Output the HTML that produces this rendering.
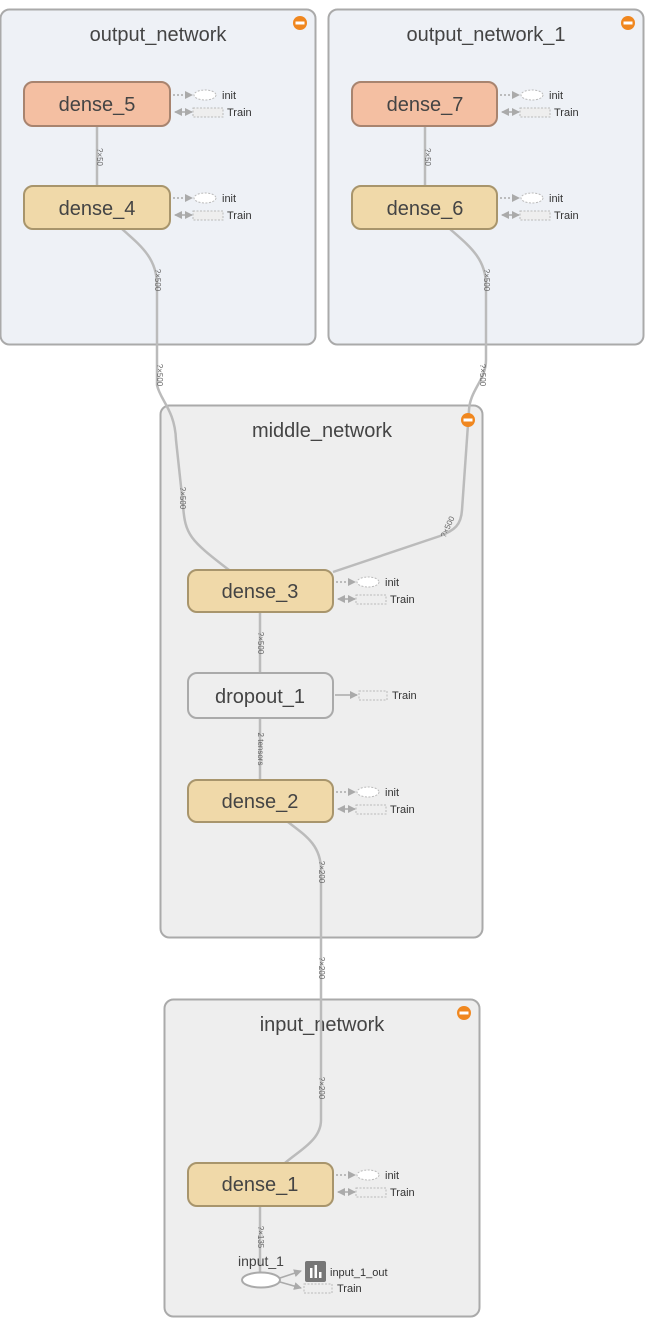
<!DOCTYPE html>
<html><head><meta charset="utf-8"><style>
html,body{margin:0;padding:0;background:#fff;width:650px;height:1325px;overflow:hidden}
svg text{font-family:"Liberation Sans",sans-serif}
.t{font-size:20px;fill:#444;text-anchor:middle}
.n{font-size:20px;fill:#444;text-anchor:middle}
.s{font-size:11px;fill:#333}
.e{font-size:8px;fill:#666;text-anchor:middle}
.edge{fill:none;stroke:#bbb;stroke-width:2.5}
</style></head><body>
<svg width="650" height="1325" viewBox="0 0 650 1325" xmlns="http://www.w3.org/2000/svg">
<defs>
<marker id="a" markerWidth="8" markerHeight="8" refX="7" refY="4" orient="auto" markerUnits="userSpaceOnUse"><path d="M0,0 L8,4 L0,8z" fill="#aaa"/></marker>
<marker id="b" markerWidth="8" markerHeight="8" refX="1" refY="4" orient="auto" markerUnits="userSpaceOnUse"><path d="M8,0 L0,4 L8,8z" fill="#aaa"/></marker>
<g id="aux">
<line x1="3" y1="-9" x2="22" y2="-9" stroke="#aaa" stroke-width="1.5" stroke-dasharray="2,2" marker-end="url(#a)"/>
<ellipse cx="35" cy="-9" rx="11" ry="5" fill="#fff" stroke="#bbb" stroke-dasharray="2,1.5"/>
<text x="52" y="-5" class="s">init</text>
<line x1="5" y1="8" x2="22" y2="8" stroke="#aaa" stroke-width="1.5" marker-end="url(#a)" marker-start="url(#b)"/>
<rect x="23" y="4" width="30" height="9" fill="#eee" stroke="#bbb" stroke-dasharray="2,1.5"/>
<text x="57" y="12" class="s">Train</text>
</g>
<g id="minus"><circle r="7" fill="#f0871f"/><rect x="-4.5" y="-1.5" width="9" height="3" fill="#fff"/></g>
</defs>

<rect x="0.5" y="9.5" width="315" height="335" rx="9" fill="#eef1f6" stroke="#aaa" stroke-width="2"/>
<rect x="328.5" y="9.5" width="315" height="335" rx="9" fill="#eef1f6" stroke="#aaa" stroke-width="2"/>
<rect x="160.5" y="405.5" width="322" height="532" rx="9" fill="#eeeeee" stroke="#aaa" stroke-width="2"/>
<rect x="164.5" y="999.5" width="315" height="317" rx="9" fill="#eeeeee" stroke="#aaa" stroke-width="2"/>
<text x="158" y="41" class="t">output_network</text>
<text x="486" y="41" class="t">output_network_1</text>
<text x="322" y="437" class="t">middle_network</text>
<text x="322" y="1031" class="t">input_network</text>

<path class="edge" d="M97,126 V186"/>
<path class="edge" d="M425,126 V186"/>
<path class="edge" d="M122,229 C140,245 157,258 157,285 V385 C160,400 175,410 176,440 L183,505 C185,535 190,540 229,570"/>
<path class="edge" d="M450,229 C468,245 486,258 486,285 V360 C486,380 470,390 469,410 L462,510 C461,525 455,530 440,536 L333,572"/>
<path class="edge" d="M260,612 V673"/>
<path class="edge" d="M260,718 V780"/>
<path class="edge" d="M288,822 C305,835 321,845 321,870 V1120 C321,1140 300,1150 285,1163"/>
<path class="edge" d="M260,1206 V1272"/>
<g transform="translate(97,157) rotate(90)"><text class="e">?×50</text></g>
<g transform="translate(425,157) rotate(90)"><text class="e">?×50</text></g>
<g transform="translate(155,280) rotate(90)"><text class="e">?×500</text></g>
<g transform="translate(484,280) rotate(90)"><text class="e">?×500</text></g>
<g transform="translate(157,375) rotate(90)"><text class="e">?×500</text></g>
<g transform="translate(480,375) rotate(90)"><text class="e">?×500</text></g>
<g transform="translate(180,498) rotate(90)"><text class="e">?×500</text></g>
<g transform="translate(450,528) rotate(-65)"><text class="e">?×500</text></g>
<g transform="translate(258,643) rotate(90)"><text class="e">?×500</text></g>
<g transform="translate(258,749) rotate(90)"><text class="e">2 tensors</text></g>
<g transform="translate(319,872) rotate(90)"><text class="e">?×200</text></g>
<g transform="translate(319,968) rotate(90)"><text class="e">?×200</text></g>
<g transform="translate(319,1088) rotate(90)"><text class="e">?×200</text></g>
<g transform="translate(258,1237) rotate(90)"><text class="e">?×135</text></g>

<rect x="24" y="82" width="146" height="44" rx="9" fill="#f4bfa2" stroke="#a8846f" stroke-width="2"/>
<text x="97" y="111" class="n">dense_5</text>
<rect x="24" y="186" width="146" height="43" rx="9" fill="#f0d9a9" stroke="#a8956c" stroke-width="2"/>
<text x="97" y="215" class="n">dense_4</text>
<rect x="352" y="82" width="145" height="44" rx="9" fill="#f4bfa2" stroke="#a8846f" stroke-width="2"/>
<text x="425" y="111" class="n">dense_7</text>
<rect x="352" y="186" width="145" height="43" rx="9" fill="#f0d9a9" stroke="#a8956c" stroke-width="2"/>
<text x="425" y="215" class="n">dense_6</text>
<rect x="188" y="570" width="145" height="42" rx="9" fill="#f0d9a9" stroke="#a8956c" stroke-width="2"/>
<text x="260" y="598" class="n">dense_3</text>
<rect x="188" y="673" width="145" height="45" rx="9" fill="#eeeeee" stroke="#aaa" stroke-width="2"/>
<text x="260" y="703" class="n">dropout_1</text>
<rect x="188" y="780" width="145" height="42" rx="9" fill="#f0d9a9" stroke="#a8956c" stroke-width="2"/>
<text x="260" y="808" class="n">dense_2</text>
<rect x="188" y="1163" width="145" height="43" rx="9" fill="#f0d9a9" stroke="#a8956c" stroke-width="2"/>
<text x="260" y="1191" class="n">dense_1</text>

<use href="#aux" x="170" y="104"/>
<use href="#aux" x="170" y="207"/>
<use href="#aux" x="497" y="104"/>
<use href="#aux" x="497" y="207"/>
<use href="#aux" x="333" y="591"/>
<use href="#aux" x="333" y="801"/>
<use href="#aux" x="333" y="1184"/>
<line x1="335" y1="695" x2="357" y2="695" stroke="#aaa" stroke-width="1.5" marker-end="url(#a)"/>
<rect x="359" y="691" width="28" height="9" fill="#eee" stroke="#bbb" stroke-dasharray="2,1.5"/>
<text x="392" y="699" class="s">Train</text>

<text x="261" y="1266" style="font-size:14px;fill:#444;text-anchor:middle">input_1</text>
<ellipse cx="261" cy="1280" rx="19" ry="7.5" fill="#fff" stroke="#aaa" stroke-width="2"/>
<line x1="280" y1="1278" x2="301" y2="1271" stroke="#aaa" stroke-width="1.5" marker-end="url(#a)"/>
<line x1="280" y1="1282" x2="301" y2="1288" stroke="#aaa" stroke-width="1.5" marker-end="url(#a)"/>
<rect x="305" y="1261" width="21" height="21" rx="2" fill="#777"/>
<rect x="310" y="1268" width="2.5" height="10" fill="#fff"/>
<rect x="314.5" y="1265" width="2.5" height="13" fill="#fff"/>
<rect x="319" y="1272" width="2.5" height="6" fill="#fff"/>
<text x="330" y="1276" class="s">input_1_out</text>
<rect x="304" y="1284" width="28" height="9" fill="#eee" stroke="#bbb" stroke-dasharray="2,1.5"/>
<text x="337" y="1292" class="s">Train</text>

<use href="#minus" x="300" y="23"/>
<use href="#minus" x="628" y="23"/>
<use href="#minus" x="468" y="420"/>
<use href="#minus" x="464" y="1013"/>
</svg>
</body></html>
